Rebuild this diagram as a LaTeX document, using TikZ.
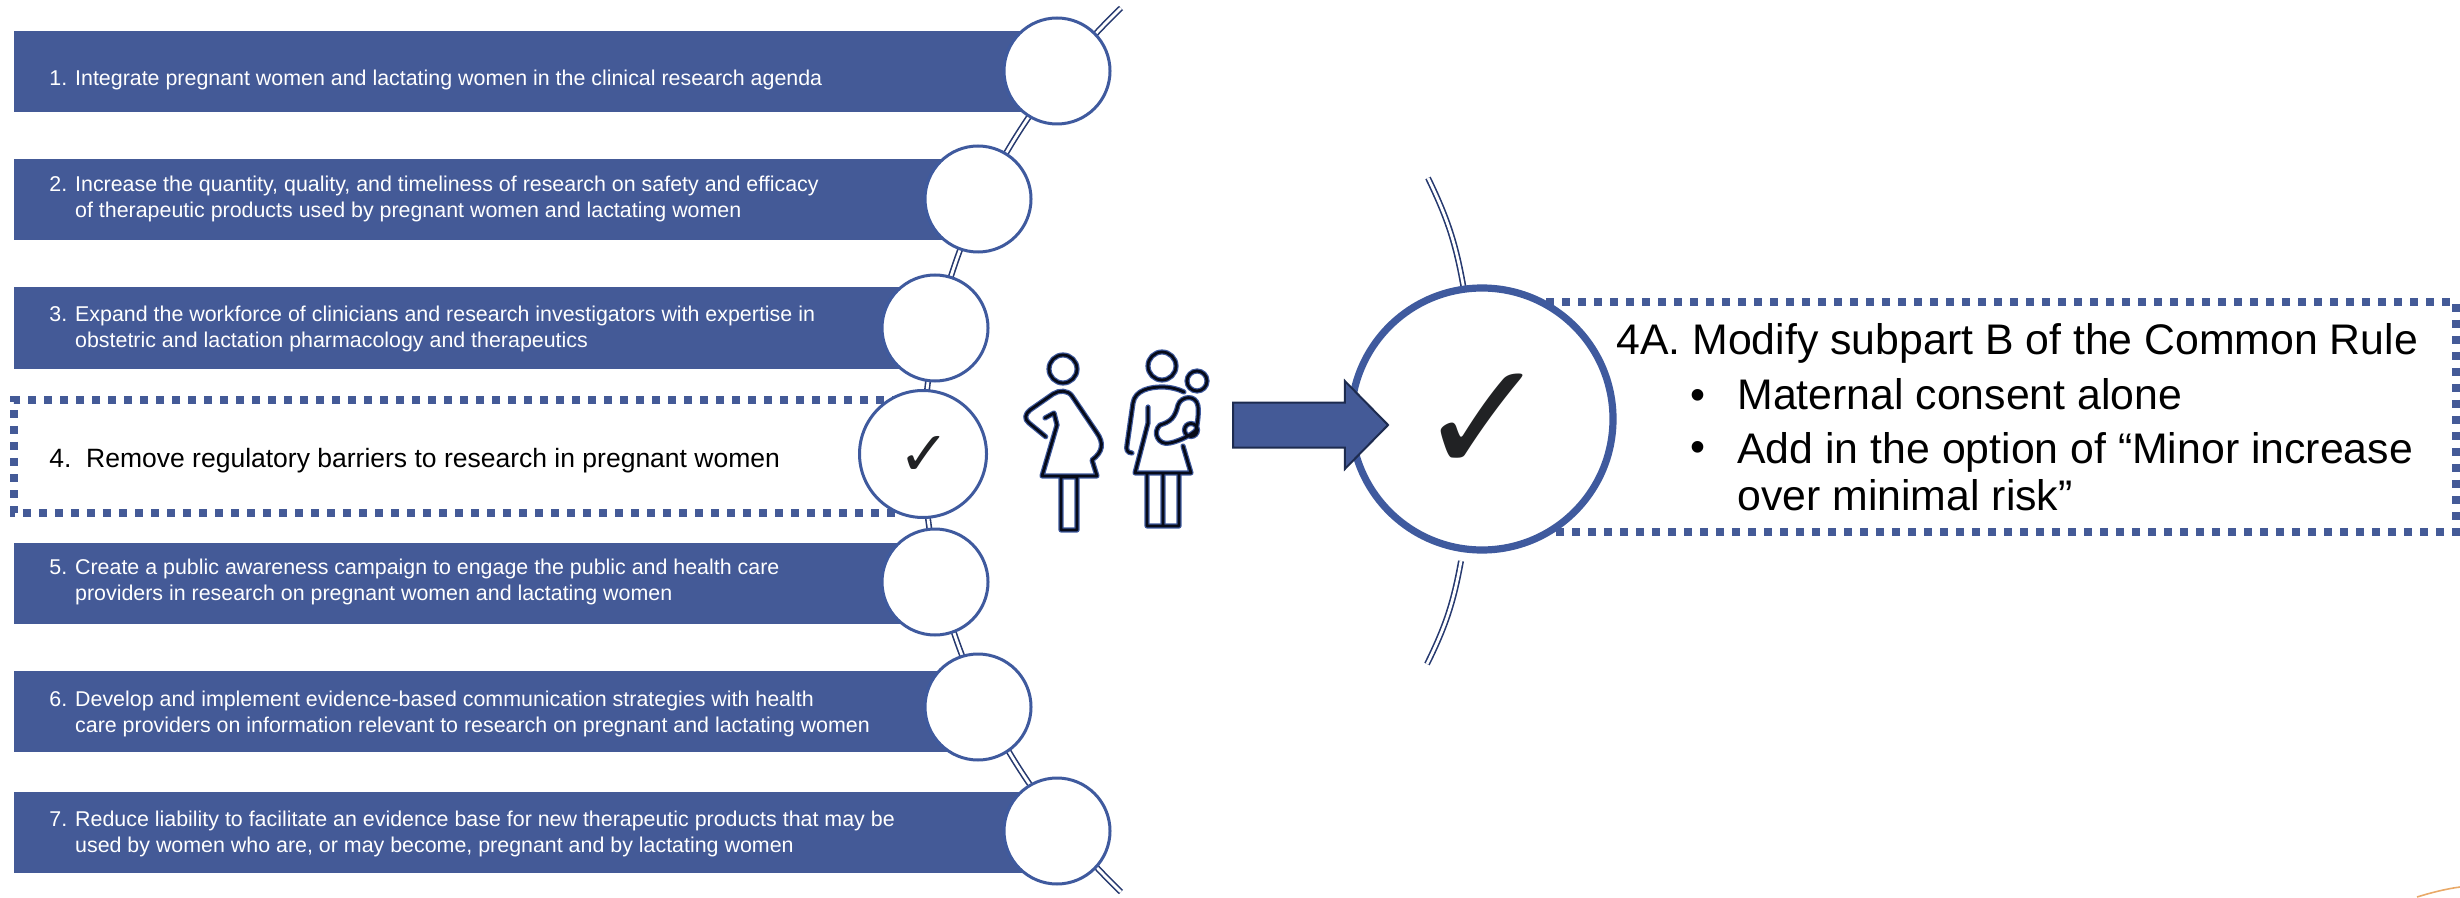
\documentclass[tikz,border=0pt]{standalone}
\usepackage{fontspec}
\setmainfont{Liberation Sans}
\newfontfamily\symfont{DejaVu Sans}
\usetikzlibrary{shapes.arrows}
\definecolor{barblue}{HTML}{445A97}
\definecolor{ringblue}{HTML}{3F5A9E}
\definecolor{spineblue}{HTML}{26396F}
\definecolor{figink}{HTML}{060A18}
\definecolor{arrowink}{HTML}{1D2B4F}
\definecolor{checkink}{HTML}{212224}
\definecolor{cornerorange}{HTML}{E9A968}
\tikzset{
  barbox/.style={fill=barblue,draw=none,anchor=west,minimum height=40.5pt,inner sep=0pt,outer sep=0pt},
  bartext/.style={anchor=west,inner sep=0pt,align=left,text=white,font=\fontsize{10.7}{13}\selectfont},
  ring/.style={circle,draw=ringblue,fill=white,line width=1.5pt,minimum size=#1,inner sep=0pt},
  spine/.style={draw=spineblue,line width=0.8pt,double=white,double distance=1.4pt},
  dotbox/.style={draw=barblue,line width=4pt,dash pattern=on 4pt off 4pt},
  figblue/.style={draw=ringblue,line width=2.6pt,line join=round,line cap=round},
  figblack/.style={draw=figink,line width=1.4pt,line join=round,line cap=round},
  bigtext/.style={anchor=base west,inner sep=0pt,align=left,font=\fontsize{21.4}{23.5}\selectfont},
}
\newcommand{\womanpath}{
  (1045.7,436.7) -- (1029,423) .. controls (1024,419) and (1025,414) .. (1030,410)
  -- (1053,394) .. controls (1059,390) and (1068,390) .. (1072,396)
  -- (1097,433) .. controls (1104,443) and (1103,452) .. (1092,460)
  -- (1097,476) -- (1042,476) -- (1057,425) -- (1054,413) -- (1045,418)
  (1061,477) rectangle (1077,530)
}
\newcommand{\motherpath}{
  (1132,453) .. controls (1127,453) and (1126,449) .. (1127,445)
  -- (1133,403) .. controls (1135,390) and (1150,387) .. (1162,387)
  .. controls (1170,387) and (1178,389) .. (1184,392)
  (1148,407) -- (1148,423) -- (1135,473) -- (1191,473) -- (1183,446)
  (1147,473) rectangle (1179,526)
  (1163,473) -- (1163,526)
  (1160,425) .. controls (1170,422) and (1175,418) .. (1178,405)
  .. controls (1181,396) and (1196,394) .. (1198,406)
  .. controls (1199,415) and (1197,425) .. (1196,430)
  .. controls (1193,434) and (1180,441) .. (1170,443)
  .. controls (1158,446) and (1152,432) .. (1160,425)
}
\begin{document}
\begin{tikzpicture}[x=0.5pt,y=-0.5pt]
  \useasboundingbox (0,0) rectangle (2460,898);
  \coordinate (spine_top) at (1121,8);
  \coordinate (spine_bot) at (1121,892);
  \coordinate (top_a) at (1428,178);
  \coordinate (top_b) at (1464,290);
  \coordinate (bot_a) at (1461,561);
  \coordinate (bot_b) at (1427,664);
  \draw[spine] (spine_top) to[bend right=46,looseness=1.06] (spine_bot);
  \draw[spine] (top_a) to[bend left=8] (top_b);
  \draw[spine] (bot_a) to[bend left=8] (bot_b);

  \node[barbox,minimum width=513pt] (bar_1) at (14,71.5) {};
  \node[barbox,minimum width=473pt] (bar_2) at (14,200) {};
  \node[barbox,minimum width=453pt] (bar_3) at (14,328) {};
  \node[barbox,minimum width=453pt] (bar_5) at (14,583) {};
  \node[barbox,minimum width=473pt] (bar_6) at (14,711.5) {};
  \node[barbox,minimum width=513pt] (bar_7) at (14,832.5) {};
  \draw[dotbox] (900,400) -- (14,400) -- (14,513) -- (900,513);
  \draw[dotbox] (1530,302) -- (2456,302) -- (2456,532) -- (1530,532);

  \node[ring=53pt] (circ_1) at (1057,71) {};
  \node[ring=53pt] (circ_2) at (978,199) {};
  \node[ring=53pt] (circ_3) at (935,328) {};
  \node[ring=63.5pt] (circ_4) at (923,454) {};
  \node[ring=53pt] (circ_5) at (935,582) {};
  \node[ring=53pt] (circ_6) at (978,707) {};
  \node[ring=53pt] (circ_7) at (1057,831) {};
  \node[circle,draw=ringblue,fill=white,line width=3.6pt,minimum size=131pt,inner sep=0pt] (circ_big) at (1482,419) {};

  \node[bartext] (txt_1) at (49,79.5) {1. Integrate pregnant women and lactating women in the clinical research agenda};
  \node[bartext] (txt_2) at (49,198.5) {2. Increase the quantity, quality, and timeliness of research on safety and efficacy\\\phantom{2. }of therapeutic products used by pregnant women and lactating women};
  \node[bartext] (txt_3) at (49,328.5) {3. Expand the workforce of clinicians and research investigators with expertise in\\\phantom{3. }obstetric and lactation pharmacology and therapeutics};
  \node[bartext,text=black,font=\fontsize{13.25}{15}\selectfont] (txt_4) at (49,461) {4.\ \ Remove regulatory barriers to research in pregnant women};
  \node[bartext] (txt_5) at (49,581.5) {5. Create a public awareness campaign to engage the public and health care\\\phantom{5. }providers in research on pregnant women and lactating women};
  \node[bartext] (txt_6) at (49,713.5) {6. Develop and implement evidence-based communication strategies with health\\\phantom{6. }care providers on information relevant to research on pregnant and lactating women};
  \node[bartext] (txt_7) at (49,834) {7. Reduce liability to facilitate an evidence base for new therapeutic products that may be\\\phantom{7. }used by women who are, or may become, pregnant and by lactating women};

  \node[text=checkink,font=\symfont\fontsize{31}{31}\selectfont,inner sep=0pt] (chk_4) at (924,456) {✓};
  \node[text=checkink,font=\symfont\fontsize{79}{79}\selectfont,inner sep=0pt] (chk_big) at (1484,424) {✓};

  \node[bigtext] (txt_4a) at (1616,354.5) {4A. Modify subpart B of the Common Rule};
  \node[bigtext] (dot_1) at (1690,409.5) {•};
  \node[bigtext] (txt_m) at (1737,409.5) {Maternal consent alone};
  \node[bigtext] (dot_2) at (1690,461) {•};
  \node[bigtext,anchor=west] (txt_add) at (1737,472) {Add in the option of “Minor increase\\over minimal risk”};

  % figures
  \draw[figblue] (1063,369) circle[radius=14] \womanpath;
  \draw[figblack] (1063,369) circle[radius=14] \womanpath;
  \draw[figblue] (1162,366) circle[radius=14] (1197,381) circle[radius=10] (1191,430) circle[radius=6.5] \motherpath;
  \draw[figblack] (1162,366) circle[radius=14] (1197,381) circle[radius=10] (1191,430) circle[radius=6.5] \motherpath;

  \node[single arrow,draw=arrowink,fill=barblue,line width=1pt,inner xsep=0pt,inner ysep=10.75pt,outer sep=0pt,
    minimum height=77.5pt,minimum width=43pt,single arrow head extend=10.75pt,
    single arrow tip angle=91,single arrow head indent=0pt] (arrow_main) at (1299.5,425) {};

  \draw[cornerorange,line width=0.8pt] (2417,897) .. controls (2430,893) and (2445,889) .. (2460,887);
\end{tikzpicture}
\end{document}
